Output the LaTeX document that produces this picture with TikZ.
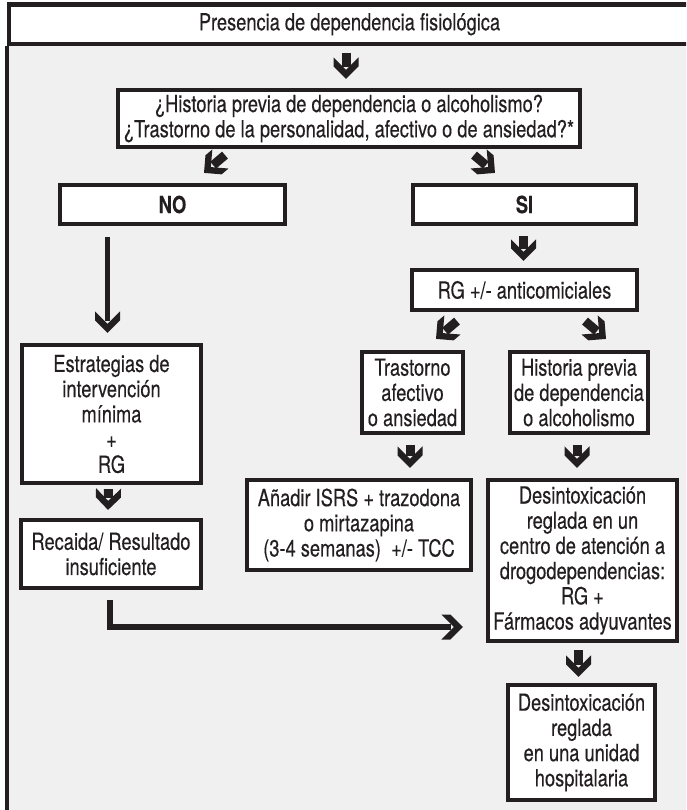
\documentclass[tikz,border=0pt]{standalone}
\usepackage{fontspec}
\setmainfont{TeX Gyre Heros}[FakeStretch=0.777, FakeBold=0.28]
\usetikzlibrary{calc,arrows.meta}

\definecolor{ink}{RGB}{35,31,32}
\definecolor{panel}{RGB}{240,240,240}

% Heavy arrow head: a right-angled V whose thick barbs are cut parallel to the shaft
\pgfdeclarearrow{
  name = Chev,
  setup code = {
    \pgfarrowssettipend{0pt}
    \pgfarrowssetlineend{-12pt}
    \pgfarrowssetvisualbackend{-21.5pt}
    \pgfarrowssetbackend{-21.5pt}
    \pgfarrowshullpoint{0pt}{0pt}
    \pgfarrowsupperhullpoint{-12.5pt}{12.5pt}
    \pgfarrowsupperhullpoint{-21.5pt}{12.5pt}
  },
  drawing code = {
    \pgfpathmoveto{\pgfpoint{0pt}{0pt}}
    \pgfpathlineto{\pgfpoint{-12.5pt}{12.5pt}}
    \pgfpathlineto{\pgfpoint{-21.5pt}{12.5pt}}
    \pgfpathlineto{\pgfpoint{-9pt}{0pt}}
    \pgfpathlineto{\pgfpoint{-21.5pt}{-12.5pt}}
    \pgfpathlineto{\pgfpoint{-12.5pt}{-12.5pt}}
    \pgfpathclose
    \pgfusepathqfill
  }
}

\begin{document}
\begin{tikzpicture}[x=1pt,y=-1pt,
  box/.style={draw=ink, line width=4.2pt, fill=white, inner sep=0pt,
    align=center, text=ink, font=\fontsize{23.5pt}{25.2pt}\selectfont},
  boldbox/.style={box, font=\fontsize{23.5pt}{25.2pt}\selectfont\bfseries},
  frame/.style={draw=ink, line width=4.2pt},
  shortarrow/.style={draw=ink, line width=9pt, -Chev},
  longarrow/.style={draw=ink, line width=5pt, -Chev},
  elbow/.style={draw=ink, line width=6pt, -Chev, line join=miter}]

\useasboundingbox (0,0) rectangle (686,810);
\clip (0,0) rectangle (686,810);

% page and grey panel
\fill[white] (0,0) rectangle (686,810);
\fill[panel] (9,44) rectangle (700,830);

% title band
\node[box, minimum width=681pt, minimum height=39.5pt] (hdr) at (349.5,24.25)
  {Presencia de dependencia fisiológica};
\draw[frame] (hdr.south west) -- ++(0,800);

% decision boxes
\node[box, minimum width=462pt, minimum height=57pt] (q) at (349,118.5)
  {¿Historia previa de dependencia o alcoholismo?\\¿Trastorno de la personalidad, afectivo o de ansiedad?*};
\node[boldbox, minimum width=225pt, minimum height=39pt] (no) at (172.5,204.5) {NO};
\node[boldbox, minimum width=223pt, minimum height=39pt] (si) at (524.5,204.5) {SI};
\node[box, minimum width=225pt, minimum height=40pt] (rg) at (524.5,290) {RG +/- anticomiciales};

% left branch
\node[box, minimum width=179pt, minimum height=138pt] (estr) at (111.5,414)
  {Estrategias de\\intervención\\mínima\\+\\RG};
\node[box, minimum width=180pt, minimum height=68pt] (rec) at (111,554)
  {Recaida/ Resultado\\insuficiente};

% right branch
\node[box, minimum width=101pt, minimum height=81pt] (tras) at (412.5,392.5)
  {Trastorno\\afectivo\\o ansiedad};
\node[box, minimum width=138pt, minimum height=81pt] (hist) at (579,392.5)
  {Historia previa\\de dependencia\\o alcoholismo};
\node[box, minimum width=224pt, minimum height=90pt] (an) at (359,525)
  {Añadir ISRS + trazodona\\o mirtazapina\\(3-4 semanas)\ \ +/- TCC};
\node[box, minimum width=189pt, minimum height=161pt] (des) at (582.5,560.5)
  {Desintoxicación\\reglada en un\\centro de atención a\\drogodependencias:\\RG +\\Fármacos adyuvantes};
\node[box, minimum width=147pt, minimum height=115pt] (hosp) at (581.5,742.5)
  {Desintoxicación\\reglada\\en una unidad\\hospitalaria};

% connectors
\draw[shortarrow] ($(hdr.south -| q.north)+(-3,7)$) -- ($(q.north)+(-3,-9)$);
\draw[shortarrow] ($(q.south)+(-124,6)$) -- ($(no.north)+(31.5,-10)$);
\draw[shortarrow] ($(q.south)+(125,6)$) -- ($(si.north)+(-29.5,-10)$);
\draw[longarrow] ($(no.south)+(-65,11)$) -- ($(estr.north)+(-4,-10)$);
\draw[shortarrow] ($(si.south)+(-1,10)$) -- ($(rg.north)+(-1,-7)$);
\draw[shortarrow] ($(rg.south)+(-67.5,9)$) -- ($(tras.north)+(23.5,-11)$);
\draw[shortarrow] ($(rg.south)+(60.5,9)$) -- ($(hist.north)+(27,-11)$);
\draw[shortarrow] ($(tras.south)+(-2.5,10)$) -- ($(tras.south |- an.north)+(-2.5,-10)$);
\draw[shortarrow] ($(hist.south)+(-2,10)$) -- ($(hist.south |- des.north)+(-2,-10)$);
\draw[shortarrow] ($(estr.south)+(-3,4)$) -- ($(rec.north)+(-3,-8)$);
\draw[elbow] ($(rec.south)+(-1,10)$) |- ($(des.west)+(-23,66.5)$);
\draw[shortarrow] ($(des.south)+(-4,7)$) -- ($(des.south |- hosp.north)+(-4,-6)$);

\end{tikzpicture}
\end{document}
